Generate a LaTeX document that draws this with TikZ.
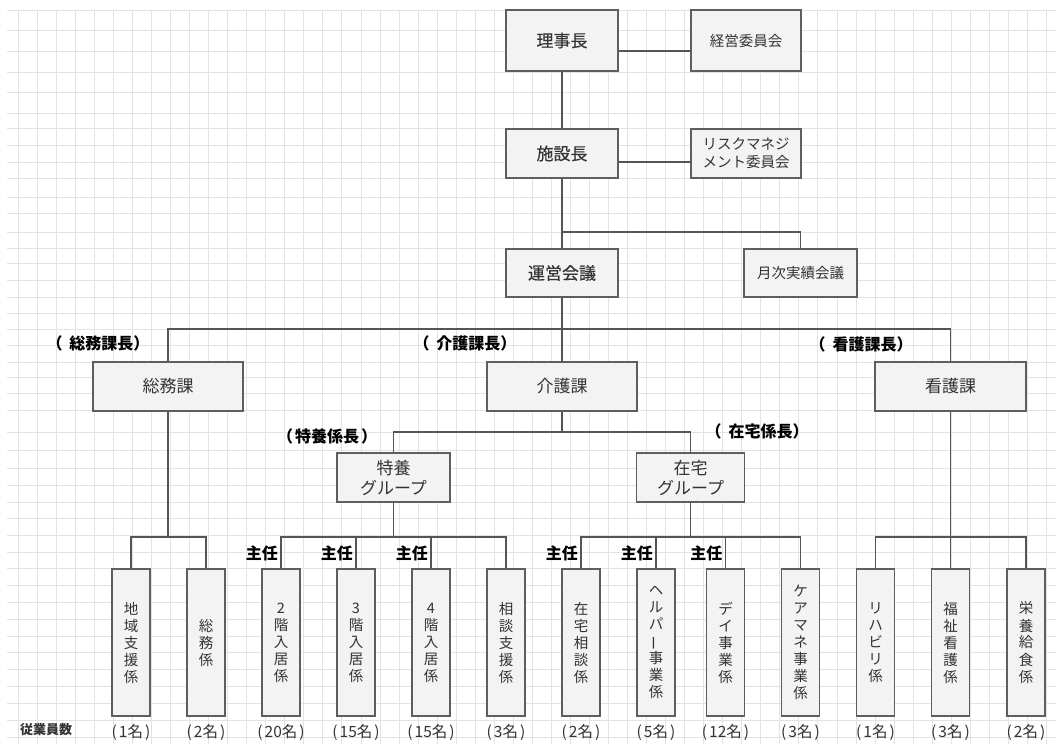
\documentclass[tikz,border=0pt]{standalone}
\usepackage{fontspec}
\usepackage{graphicx}
\setmainfont{Noto Sans CJK JP}
\newfontfamily\jpmed{Noto Sans CJK JP}[FakeBold=0.5]
\definecolor{gridgray}{HTML}{E3E3E3}
\definecolor{boxborder}{HTML}{5E5E5E}
\definecolor{boxfill}{HTML}{F3F3F3}
\definecolor{boxtext}{HTML}{333333}
\definecolor{linegray}{HTML}{555555}
\begin{document}
\begin{tikzpicture}[x=1pt,y=-1pt,
  gridline/.style={draw=gridgray, line width=1pt},
  box/.style={draw=boxborder, line width=1.1pt, fill=boxfill, text=boxtext, inner sep=0pt, align=center, font=\fontsize{17}{20}\selectfont},
  smallbox/.style={box, font=\fontsize{14.5}{18}\selectfont},
  leaf/.style={box, minimum width=38pt, minimum height=147pt, font=\fontsize{14.5}{17}\selectfont},
  conn/.style={draw=linegray, line width=1.1pt},
  lbl/.style={font=\fontsize{16}{18}\selectfont\bfseries, text=black, inner sep=0pt},
  cnt/.style={font=\fontsize{15.5}{18}\selectfont, text=boxtext, inner sep=0pt},
]
\fill[white] (0,0) rectangle (1056,744);
\useasboundingbox (0,0) rectangle (1056,744);
% grid
\foreach \k in {0,...,54} \draw[gridline] ({18.3+19.04*\k},10) -- ({18.3+19.04*\k},744);
\foreach \yy in {10,30.7,51.3,72,92.7,113,128,145,162,178,197,213,232,248,263,280,297,313,329,345,362,377,393,410,432,450,468,485,502,518,535,552,568,585,602,619,636,652,669,686,703,720,737}
  \draw[gridline] (7,\yy) -- (1056,\yy);

% top boxes
\node[box, minimum width=112pt, minimum height=61pt, font=\fontsize{17}{20}\jpmed] (riji) at (562,40.5) {理事長};
\node[smallbox, minimum width=110pt, minimum height=61pt] (keiei) at (746,40.5) {経営委員会};
\node[box, minimum width=112pt, minimum height=49pt, font=\fontsize{17}{20}\jpmed] (shisetsu) at (562,153.5) {施設長};
\node[smallbox, minimum width=110pt, minimum height=49pt] (risk) at (746,153.5) {リスクマネジ\\メント委員会};
\node[box, minimum width=112pt, minimum height=48pt, font=\fontsize{17}{20}\jpmed] (unei) at (562,273) {運営会議};
\node[smallbox, minimum width=113pt, minimum height=48pt] (getsuji) at (800.5,273) {月次実績会議};

% sections
\node[box, minimum width=150pt, minimum height=49pt] (somuka) at (168,386.5) {総務課};
\node[box, minimum width=150pt, minimum height=49pt] (kaigoka) at (562,386.5) {介護課};
\node[box, minimum width=151pt, minimum height=49pt] (kangoka) at (950.5,386.5) {看護課};

% groups
\node[box, minimum width=113pt, minimum height=49pt] (tokuyo) at (393.5,477.5) {特養\\グループ};
\node[box, minimum width=108pt, minimum height=49pt] (zaitaku) at (690.5,477.5) {在宅\\グループ};

% leaves
\node[leaf] (l1) at (131,642.5) {地\\域\\支\\援\\係};
\node[leaf] (l2) at (206,642.5) {総\\務\\係};
\node[leaf] (l3) at (281,642.5) {2\\階\\入\\居\\係};
\node[leaf] (l4) at (356,642.5) {3\\階\\入\\居\\係};
\node[leaf] (l5) at (431,642.5) {4\\階\\入\\居\\係};
\node[leaf] (l6) at (506,642.5) {相\\談\\支\\援\\係};
\node[leaf] (l7) at (581,642.5) {在\\宅\\相\\談\\係};
\node[leaf] (l8) at (656,642.5) {ヘ\\ル\\パ\\\rotatebox[origin=c]{90}{ー}\\事\\業\\係};
\node[leaf] (l9) at (725.5,642.5) {デ\\イ\\事\\業\\係};
\node[leaf] (l10) at (800.5,642.5) {ケ\\ア\\マ\\ネ\\事\\業\\係};
\node[leaf] (l11) at (875.5,642.5) {リ\\ハ\\ビ\\リ\\係};
\node[leaf] (l12) at (950.5,642.5) {福\\祉\\看\\護\\係};
\node[leaf] (l13) at (1026,642.5) {栄\\養\\給\\食\\係};

% counts
\node[cnt] (c1) at (131,732) {(\kern2pt 1名\kern2pt)};
\node[cnt] (c2) at (206,732) {(\kern2pt 2名\kern2pt)};
\node[cnt] (c3) at (281,732) {(\kern2pt 20名\kern2pt)};
\node[cnt] (c4) at (356,732) {(\kern2pt 15名\kern2pt)};
\node[cnt] (c5) at (431,732) {(\kern2pt 15名\kern2pt)};
\node[cnt] (c6) at (506,732) {(\kern2pt 3名\kern2pt)};
\node[cnt] (c7) at (581,732) {(\kern2pt 2名\kern2pt)};
\node[cnt] (c8) at (656,732) {(\kern2pt 5名\kern2pt)};
\node[cnt] (c9) at (725.5,732) {(\kern2pt 12名\kern2pt)};
\node[cnt] (c10) at (800.5,732) {(\kern2pt 3名\kern2pt)};
\node[cnt] (c11) at (875.5,732) {(\kern2pt 1名\kern2pt)};
\node[cnt] (c12) at (950.5,732) {(\kern2pt 3名\kern2pt)};
\node[cnt] (c13) at (1026,732) {(\kern2pt 2名\kern2pt)};
\node[lbl, font=\fontsize{13}{16}\selectfont\bfseries, text=boxtext] (jugyo) at (46,730) {従業員数};

% role labels
\node[lbl] (t1) at (98,343) {（\hspace{7pt}総務課長）};
\node[lbl] (t2) at (465,343) {（\hspace{7pt}介護課長）};
\node[lbl] (t3) at (861,344) {（\hspace{7pt}看護課長）};
\node[lbl] (t4) at (327,436) {（\kern2pt 特養係長\kern2pt）};
\node[lbl] (t5) at (757,431) {（\hspace{7pt}在宅係長）};

% connector levels
\coordinate (v1) at (0,232);
\coordinate (v2) at (0,329);
\coordinate (v3) at (0,432);
\coordinate (v4) at (0,537);

% connectors
\draw[conn] ([yshift=-10.5pt]riji.east) -- ([yshift=-10.5pt]keiei.west);
\draw[conn] ([yshift=-8.5pt]shisetsu.east) -- ([yshift=-8.5pt]risk.west);
\draw[conn] (riji.south) -- (shisetsu.north);
\draw[conn] (shisetsu.south) -- (unei.north);
\draw[conn] (shisetsu.south |- v1) -| (getsuji.north);
\draw[conn] (unei.south) -- (kaigoka.north);
\draw[conn] (somuka.north) |- (kangoka.north |- v2) -- (kangoka.north);
\draw[conn] (kaigoka.south) -- (kaigoka.south |- v3);
\draw[conn] (tokuyo.north) |- (zaitaku.north |- v3) -- (zaitaku.north);
% level 4
\draw[conn] (somuka.south) -- (somuka.south |- v4);
\draw[conn] (l1.north) |- (l2.north |- v4) -- (l2.north);
\draw[conn] (tokuyo.south) -- (tokuyo.south |- v4);
\draw[conn] (l3.north) |- (l6.north |- v4) -- (l6.north);
\draw[conn] (l4.north) -- (l4.north |- v4);
\draw[conn] (l5.north) -- (l5.north |- v4);
\draw[conn] (zaitaku.south) -- (zaitaku.south |- v4);
\draw[conn] (l7.north) |- (l10.north |- v4) -- (l10.north);
\draw[conn] (l8.north) -- (l8.north |- v4);
\draw[conn] (l9.north) -- (l9.north |- v4);
\draw[conn] (kangoka.south) -- (kangoka.south |- v4);
\draw[conn] (l11.north) |- (l13.north |- v4) -- (l13.north);
\draw[conn] (l12.north) -- (l12.north |- v4);

% 主任 labels
\node[lbl, anchor=east, xshift=-3pt] (s1) at (l3.north |- 0,553) {主任};
\node[lbl, anchor=east, xshift=-3pt] (s2) at (l4.north |- 0,553) {主任};
\node[lbl, anchor=east, xshift=-3pt] (s3) at (l5.north |- 0,553) {主任};
\node[lbl, anchor=east, xshift=-3pt] (s4) at (l7.north |- 0,553) {主任};
\node[lbl, anchor=east, xshift=-3pt] (s5) at (l8.north |- 0,553) {主任};
\node[lbl, anchor=east, xshift=-3pt] (s6) at (l9.north |- 0,553) {主任};
\end{tikzpicture}
\end{document}
